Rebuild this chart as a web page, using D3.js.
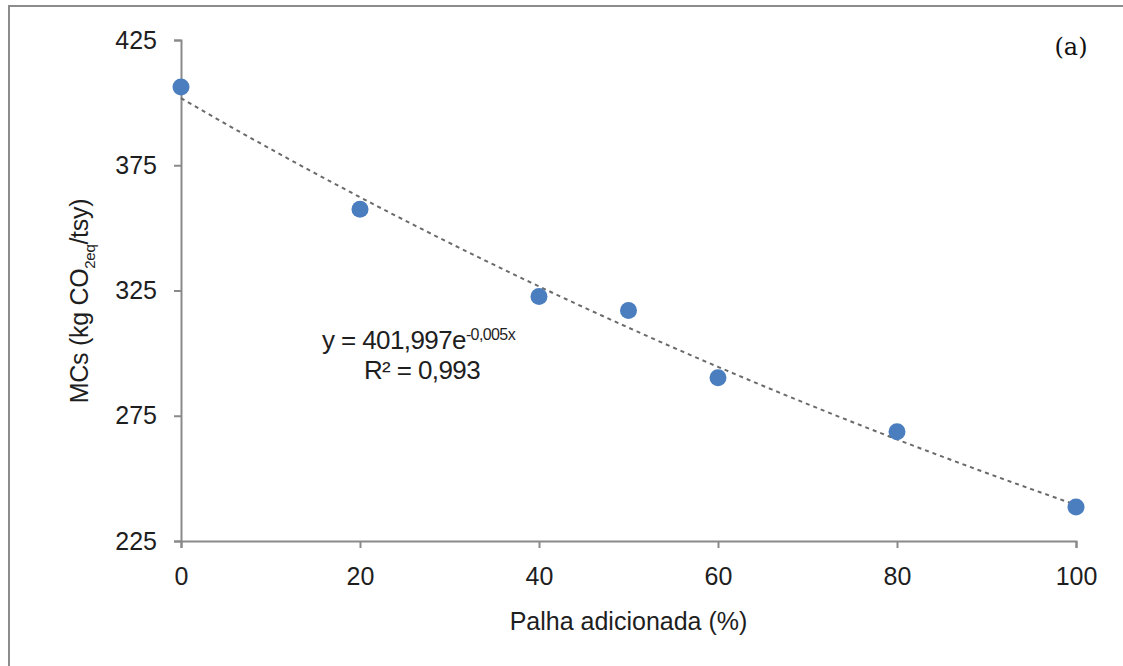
<!DOCTYPE html>
<html>
<head>
<meta charset="utf-8">
<script src="https://cdn.jsdelivr.net/npm/d3@7"></script>
<style>
  body { margin: 0; background: #fff; }
  svg { display: block; font-family: "Liberation Sans", Arial, sans-serif; }
</style>
</head>
<body>
<div id="chart"></div>
<script>
// values
const palha = [0, 20, 40, 50, 60, 80, 100];
const mcs = [406.2, 357.4, 322.6, 317, 290.2, 268.6, 238.6];
const xTicks = [0, 20, 40, 60, 80, 100];
const yTicks = [225, 275, 325, 375, 425];

const width = 1123, height = 666;
const margin = { top: 40, right: 47, bottom: 125, left: 181 };

const svg = d3.select('#chart')
  .append('svg')
  .attr('width', width)
  .attr('height', height);

// outer frame (only top and left visible in the reference)
svg.append('rect')
  .attr('x', 9).attr('y', 6)
  .attr('width', width + 20).attr('height', height + 20)
  .attr('fill', 'none')
  .attr('stroke', '#8c8c8c')
  .attr('stroke-width', 2);

const x = d3.scaleLinear().domain([0, 100]).range([margin.left, width - margin.right]);
const y = d3.scaleLinear().domain([225, 425]).range([height - margin.bottom, margin.top]);

const axisColor = '#8a8a8a';
const textColor = '#1e1e1e';

const gx = svg.append('g')
  .attr('transform', `translate(0,${y(225)})`)
  .call(d3.axisBottom(x).tickValues(xTicks).tickSize(7).tickPadding(19));
gx.selectAll('text').attr('font-size', 25).attr('fill', textColor);

const gy = svg.append('g')
  .attr('transform', `translate(${x(0)},0)`)
  .call(d3.axisLeft(y).tickValues(yTicks).tickSize(7).tickPadding(17));
gy.selectAll('text').attr('font-size', 25).attr('fill', textColor);

[gx, gy].forEach(g => {
  g.select('.domain').attr('stroke', axisColor).attr('stroke-width', 2);
  g.selectAll('.tick line').attr('stroke', axisColor).attr('stroke-width', 2);
});

// exponential trend fitted on ln(y) like the spreadsheet does
const lnY = mcs.map(Math.log);
const mx = d3.mean(palha), my = d3.mean(lnY);
const k = d3.sum(palha, (d, i) => (d - mx) * (lnY[i] - my)) / d3.sum(palha, d => (d - mx) ** 2);
const a = Math.exp(my - k * mx);
const trend = d3.range(0, 101, 1).map(v => [v, a * Math.exp(k * v)]);

svg.append('path')
  .datum(trend)
  .attr('fill', 'none')
  .attr('stroke', '#6a6a6a')
  .attr('stroke-width', 2)
  .attr('stroke-dasharray', '4,4')
  .attr('d', d3.line().x(d => x(d[0])).y(d => y(d[1])));

svg.selectAll('.pt')
  .data(palha)
  .enter()
  .append('circle')
  .attr('class', 'pt')
  .attr('cx', d => x(d))
  .attr('cy', (d, i) => y(mcs[i]))
  .attr('r', 8.5)
  .attr('fill', '#4a7ebf');

// equation label
const eq = svg.append('text')
  .attr('x', 322).attr('y', 349)
  .attr('font-size', 26).attr('fill', textColor)
  .attr('letter-spacing', -0.6);
eq.append('tspan').text('y = 401,997e');
eq.append('tspan').attr('dy', -9).attr('font-size', 16).text('-0,005x');

svg.append('text')
  .attr('x', 422).attr('y', 379)
  .attr('text-anchor', 'middle')
  .attr('font-size', 26).attr('fill', textColor)
  .attr('letter-spacing', -0.6)
  .text('R² = 0,993');

// axis titles
svg.append('text')
  .attr('x', x(50)).attr('y', 630)
  .attr('text-anchor', 'middle')
  .attr('font-size', 25).attr('fill', textColor)
  .text('Palha adicionada (%)');

const yt = svg.append('text')
  .attr('transform', 'translate(88,301) rotate(-90)')
  .attr('text-anchor', 'middle')
  .attr('font-size', 25).attr('fill', textColor)
  .attr('letter-spacing', -0.3);
yt.append('tspan').text('MCs (kg CO');
yt.append('tspan').attr('dy', 7).attr('font-size', 15).text('2eq');
yt.append('tspan').attr('dy', -7).text('/tsy)');

svg.append('text')
  .attr('x', 1071).attr('y', 55)
  .attr('text-anchor', 'middle')
  .attr('font-family', '"DejaVu Serif", "Liberation Serif", serif')
  .attr('font-size', 24).attr('fill', '#111')
  .text('(a)');
</script>
</body>
</html>
